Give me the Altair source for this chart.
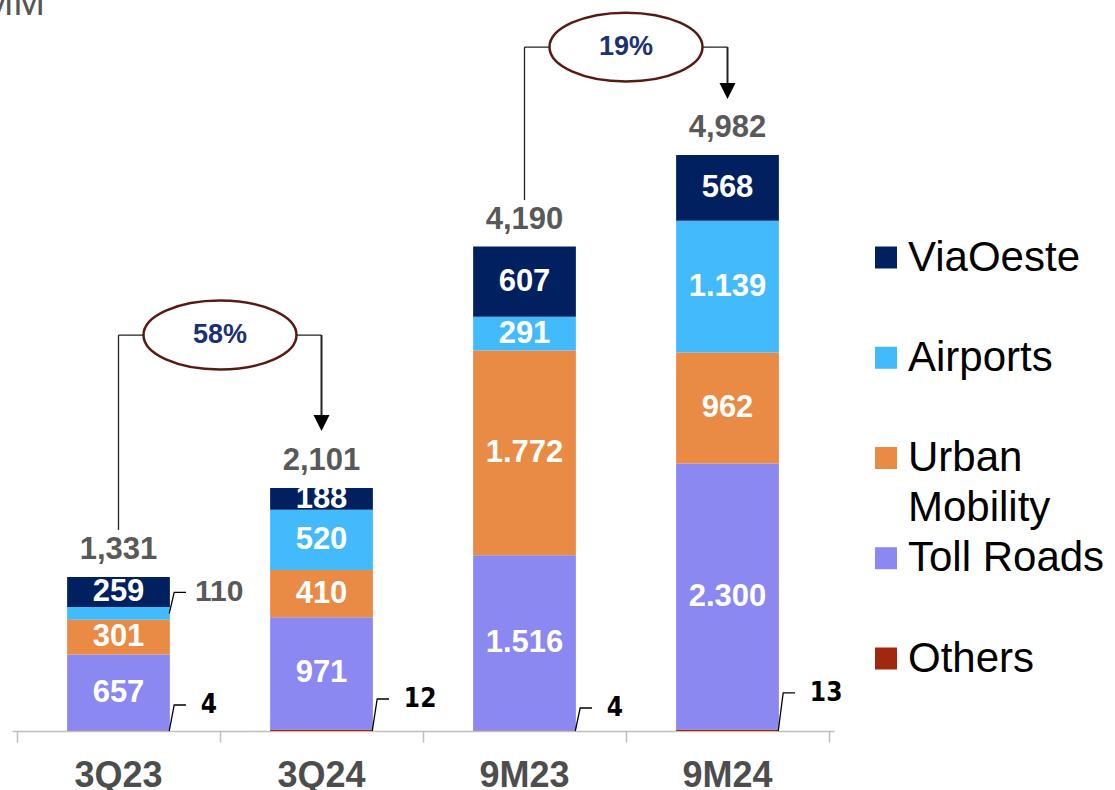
import altair as alt
import pandas as pd

# ---------------- data ----------------
categories = ["3Q23", "3Q24", "9M23", "9M24"]
series = ["Others", "Toll Roads", "Urban Mobility", "Airports", "ViaOeste"]  # bottom -> top
others = [4, 12, 4, 13]
toll_roads = [657, 971, 1516, 2300]
urban_mobility = [301, 410, 1772, 962]
airports = [110, 520, 291, 1139]
viaoeste = [259, 188, 607, 568]
totals = [1331, 2101, 4190, 4982]
growth_labels = ["58%", "19%"]
growth_pairs = [("3Q23", "3Q24"), ("9M23", "9M24")]
legend_order = ["ViaOeste", "Airports", "Urban Mobility", "Toll Roads", "Others"]
colors = ["#A0280F", "#8B88F1", "#E98A45", "#42BAFB", "#00205F"]
unit_label = "R$ MM"

# ---------------- layout constants ----------------
W, H = 822, 731
Y_MAX = 6323
STEP = W / len(categories)


def ux(px):
    return px / STEP


def uy(px):
    return px * Y_MAX / H


# annotation levels (data units)
bracket_y = [3425, 5916]
bracket_start = [1739, 4593]
arrow_tip = [2595, 5467]
others_label_y = [225, 277, 199, 329]

# ---------------- tables ----------------
values = [others, toll_roads, urban_mobility, airports, viaoeste]
rows, outside = [], []
for i, c in enumerate(categories):
    acc = 0
    for s, vals in zip(series, values):
        v = vals[i]
        hpx = v * H / Y_MAX
        inside = s != "Others" and hpx >= 20
        txt = f"{v:,}".replace(",", ".")
        rows.append(dict(cat=c, series=s, value=v, start=acc, end=acc + v,
                         mid=acc + v / 2, xc=i + 0.5,
                         label=txt if inside else ""))
        if s == "Others":
            outside.append(dict(key=f"o{i}", kind="others", i=i, y0=0,
                                yl=others_label_y[i], text=str(v)))
        elif not inside:
            outside.append(dict(key=f"s{i}{s}", kind="seg", i=i, y0=acc + v / 2,
                                yl=acc + v / 2 + uy(21), text=str(v)))
        acc += v
seg = pd.DataFrame(rows)

lead_rows, lab_rows = [], []
for o in outside:
    xr = o["i"] + 0.75
    for k, (dx, yy) in enumerate([(0, o["y0"]), (5, o["yl"]), (17, o["yl"])]):
        lead_rows.append(dict(key=o["key"], pt=k, x=xr + ux(dx), y=yy))
    lab_rows.append(dict(kind=o["kind"], x=xr + ux(32 if o["kind"] == "others" else 26),
                         y=o["yl"], text=o["text"]))
leads = pd.DataFrame(lead_rows)
olabs = pd.DataFrame(lab_rows)

tot = pd.DataFrame(dict(cat=categories, xc=[i + 0.5 for i in range(len(categories))],
                        total=totals, label=[f"{t:,}" for t in totals]))

ann_rows = []
for g, (a, b), yb, ys, yt in zip(growth_labels, growth_pairs, bracket_y, bracket_start, arrow_tip):
    ia, ib = categories.index(a), categories.index(b)
    ann_rows.append(dict(g=g, xl=ia + 0.5, xr=ib + 0.5, xm=(ia + ib + 1) / 2,
                         yb=yb, ys=ys, yt=yt, ytt=yt + uy(14)))
ann = pd.DataFrame(ann_rows)

leg = pd.DataFrame(dict(series=legend_order,
                        line1=[s.split(" ")[0] if s == "Urban Mobility" else s for s in legend_order],
                        line2=[s.split(" ")[1] if s == "Urban Mobility" else "" for s in legend_order]))

# ---------------- scales ----------------
xs = alt.Scale(domain=[0, len(categories)], nice=False, zero=False)
ys_ = alt.Scale(domain=[0, Y_MAX], nice=False)
cs = alt.Scale(domain=series, range=colors)

xaxis = alt.Axis(values=list(range(len(categories) + 1)), labels=False, ticks=True,
                 tickSize=11, grid=False, title=None, domainColor="#BFBFBF",
                 tickColor="#BFBFBF", domainWidth=1.5, tickWidth=1.5)

bars = alt.Chart(seg).mark_bar(width=STEP / 2, stroke=None).encode(
    x=alt.X("xc:Q", scale=xs, axis=xaxis),
    y=alt.Y("start:Q", scale=ys_, axis=None),
    y2="end:Q",
    color=alt.Color("series:N", scale=cs, legend=None),
)

seg_text = alt.Chart(seg).transform_filter("datum.label != ''").mark_text(
    font="Liberation Sans", fontWeight="bold", fontSize=31, color="white", baseline="middle"
).encode(x="xc:Q", y="mid:Q", text="label:N")

tot_text = alt.Chart(tot).mark_text(
    font="Liberation Sans", fontWeight="bold", fontSize=31, color="#595959",
    baseline="alphabetic", dy=-18
).encode(x="xc:Q", y="total:Q", text="label:N")

cat_text = alt.Chart(tot).mark_text(
    font="Liberation Sans", fontWeight="bold", fontSize=36, color="#4D4D4D",
    baseline="alphabetic"
).encode(x="xc:Q", y=alt.value(787), text="cat:N")

lead_lines = alt.Chart(leads).mark_line(color="black", strokeWidth=1.3).encode(
    x="x:Q", y="y:Q", detail="key:N", order="pt:Q")

others_text = alt.Chart(olabs).transform_filter("datum.kind == 'others'").mark_text(
    font="DejaVu Sans Condensed", fontWeight="bold", fontSize=26, color="black",
    align="left", baseline="middle"
).encode(x="x:Q", y="y:Q", text="text:N")

seg_out_text = alt.Chart(olabs).transform_filter("datum.kind == 'seg'").mark_text(
    font="Liberation Sans", fontWeight="bold", fontSize=30, color="#595959",
    align="left", baseline="middle"
).encode(x="x:Q", y="y:Q", text="text:N")

line_color = "#222222"
left_v = alt.Chart(ann).mark_rule(color=line_color, strokeWidth=1.3).encode(
    x="xl:Q", y="ys:Q", y2="yb:Q")
horiz = alt.Chart(ann).mark_rule(color=line_color, strokeWidth=1.3).encode(
    x="xl:Q", x2="xr:Q", y="yb:Q")
right_v = alt.Chart(ann).mark_rule(color=line_color, strokeWidth=2).encode(
    x="xr:Q", y="yb:Q", y2="ytt:Q")
arrow = alt.Chart(ann).mark_point(
    shape="M-1,-2L1,-2L0,0Z", size=256, filled=True, fill="black", stroke=None, opacity=1
).encode(x="xr:Q", y="yt:Q")
ellipse = alt.Chart(ann).mark_point(
    shape="M-1,0A1,0.45,0,1,1,1,0A1,0.45,0,1,1,-1,0Z", size=153 * 153,
    filled=True, fill="white", stroke="#5A1A14", strokeWidth=2.5, opacity=1
).encode(x="xm:Q", y="yb:Q")
ell_text = alt.Chart(ann).mark_text(
    font="Liberation Sans", fontWeight="bold", fontSize=27, color="#1B3272", baseline="middle"
).encode(x="xm:Q", y="yb:Q", text="g:N")

main = alt.layer(bars, seg_text, tot_text, cat_text, lead_lines, others_text, seg_out_text,
                 left_v, horiz, right_v, arrow, ellipse, ell_text)

ly = alt.Scale(type="point", domain=legend_order, range=[257.5, 658.5], padding=0)
leg_sq = alt.Chart(leg).mark_square(size=22 * 22, opacity=1).encode(
    x=alt.value(874), y=alt.Y("series:N", scale=ly, axis=None),
    color=alt.Color("series:N", scale=cs, legend=None))
leg_t1 = alt.Chart(leg).mark_text(
    font="Liberation Sans", fontSize=42, color="black", align="left", baseline="middle"
).encode(x=alt.value(896), y=alt.Y("series:N", scale=ly, axis=None), text="line1:N")
leg_t2 = alt.Chart(leg).transform_filter("datum.line2 != ''").mark_text(
    font="Liberation Sans", fontSize=42, color="black", align="left", baseline="middle", dy=50
).encode(x=alt.value(896), y=alt.Y("series:N", scale=ly, axis=None), text="line2:N")
unit_t = alt.Chart(pd.DataFrame(dict(t=[unit_label]))).mark_text(
    font="Liberation Sans", fontSize=38, color="#555555",
    align="right", baseline="alphabetic"
).encode(x=alt.value(33), y=alt.value(15), text="t:N")

legend_layer = alt.layer(leg_sq, leg_t1, leg_t2, unit_t)

chart = alt.layer(main, legend_layer).resolve_scale(y="independent").properties(
    width=W, height=H,
    autosize=alt.AutoSizeParams(type="none"),
    padding={"left": 12, "top": 0, "right": 1115 - 12 - W, "bottom": 790 - H},
    background="white",
).configure_view(stroke=None)

chart.save("out.html", embed_options={"renderer": "svg", "actions": False})
